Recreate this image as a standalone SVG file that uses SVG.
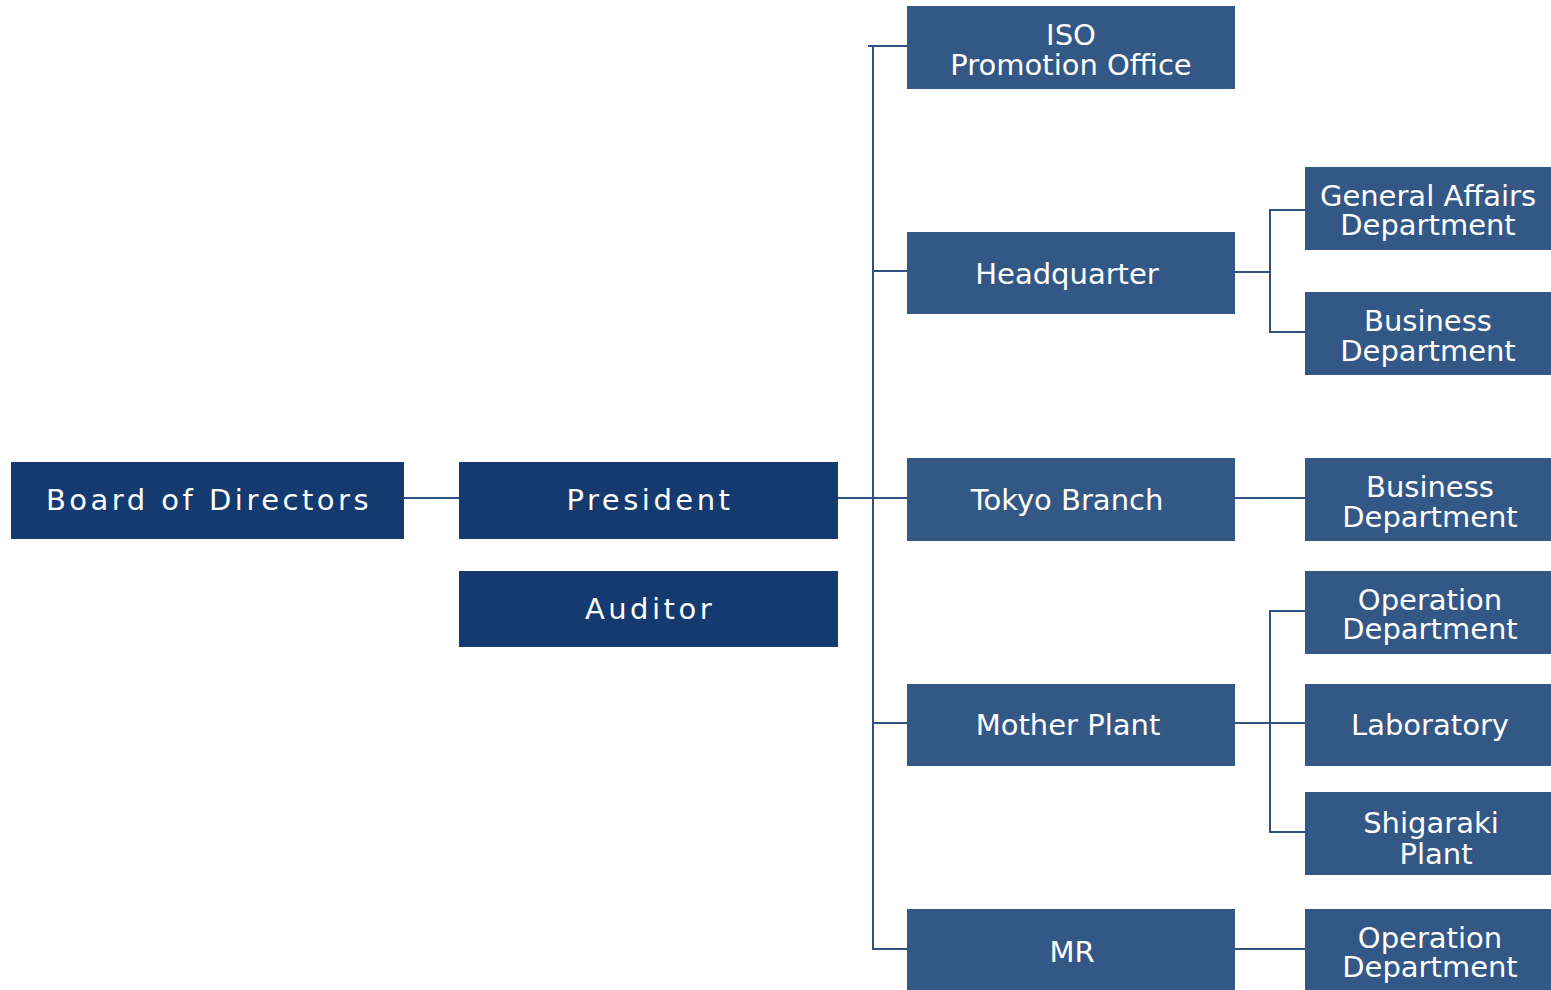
<svg xmlns="http://www.w3.org/2000/svg" width="1551" height="990" viewBox="0 0 1551 990">
<style>
.dk{fill:#143a70}
.lt{fill:#335886}
text{font-family:"DejaVu Sans","Liberation Sans",sans-serif;font-size:29px;fill:#ffffff;text-anchor:middle}
.sp{letter-spacing:3.5px}
.ln{stroke:#2f5283;stroke-width:2;fill:none}
</style>
<rect width="1551" height="990" fill="#ffffff"/>
<g id="connectors">
<path class="ln" d="M404 498H459"/>
<path class="ln" d="M838 498H907"/>
<path class="ln" d="M868 46H907M873 46V949H907M873 271H907M873 723H907"/>
<path class="ln" d="M1235 272H1270M1305 210H1270V332H1305"/>
<path class="ln" d="M1235 498H1305"/>
<path class="ln" d="M1235 723H1305M1305 611H1270V832H1305"/>
<path class="ln" d="M1235 949H1305"/>
</g>
<g id="board"><rect class="dk" x="11" y="462" width="393" height="77"/><text class="sp" x="209" y="510">Board of Directors</text></g>
<g id="president"><rect class="dk" x="459" y="462" width="379" height="77"/><text class="sp" x="650" y="510">President</text></g>
<g id="auditor"><rect class="dk" x="459" y="571" width="379" height="76"/><text class="sp" x="650" y="619">Auditor</text></g>
<g id="iso"><rect class="lt" x="907" y="6" width="328" height="83"/><text x="1071" y="45">ISO</text><text x="1071" y="75">Promotion Office</text></g>
<g id="headquarter"><rect class="lt" x="907" y="232" width="328" height="82"/><text x="1067" y="284">Headquarter</text></g>
<g id="tokyo"><rect class="lt" x="907" y="458" width="328" height="83"/><text x="1067" y="510">Tokyo Branch</text></g>
<g id="mother"><rect class="lt" x="907" y="684" width="328" height="82"/><text x="1068" y="735">Mother Plant</text></g>
<g id="mr"><rect class="lt" x="907" y="909" width="328" height="86"/><text x="1072" y="962">MR</text></g>
<g id="general"><rect class="lt" x="1305" y="167" width="246" height="83"/><text x="1428" y="206">General Affairs</text><text x="1428" y="235">Department</text></g>
<g id="business1"><rect class="lt" x="1305" y="292" width="246" height="83"/><text x="1428" y="331">Business</text><text x="1428" y="361">Department</text></g>
<g id="business2"><rect class="lt" x="1305" y="458" width="246" height="83"/><text x="1430" y="497">Business</text><text x="1430" y="527">Department</text></g>
<g id="operation1"><rect class="lt" x="1305" y="571" width="246" height="83"/><text x="1430" y="610">Operation</text><text x="1430" y="639">Department</text></g>
<g id="laboratory"><rect class="lt" x="1305" y="684" width="246" height="82"/><text x="1430" y="735">Laboratory</text></g>
<g id="shigaraki"><rect class="lt" x="1305" y="792" width="246" height="83"/><text x="1431" y="833">Shigaraki</text><text x="1436" y="864">Plant</text></g>
<g id="operation2"><rect class="lt" x="1305" y="909" width="246" height="86"/><text x="1430" y="948">Operation</text><text x="1430" y="977">Department</text></g>
</svg>
